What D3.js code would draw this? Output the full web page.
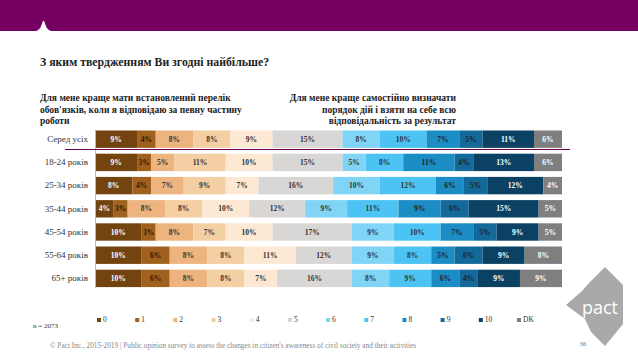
<!DOCTYPE html>
<html>
<head>
<meta charset="utf-8">
<script src="https://cdn.jsdelivr.net/npm/d3@7"></script>
<style>
  body { margin: 0; background: #fff; }
  svg { display: block; }
</style>
</head>
<body>
<div id="chart"></div>
<script>
// categories and values
var rows = ["Серед усіх", "18-24 років", "25-34 років", "35-44 років", "45-54 років", "55-64 років", "65+ років"]
var keys = ["0", "1", "2", "3", "4", "5", "6", "7", "8", "9", "10", "DK"]
var v_all   = [9, 4, 8, 8, 9, 15, 8, 10, 7, 5, 11, 6]
var v_18_24 = [9, 3, 5, 11, 10, 15, 5, 8, 11, 4, 13, 6]
var v_25_34 = [8, 4, 7, 9, 7, 16, 10, 12, 6, 5, 12, 4]
var v_35_44 = [4, 3, 8, 8, 10, 12, 9, 11, 9, 6, 15, 5]
var v_45_54 = [10, 3, 8, 7, 10, 17, 9, 10, 7, 5, 9, 5]
var v_55_64 = [10, 6, 8, 8, 11, 12, 9, 8, 5, 6, 9, 8]
var v_65    = [10, 6, 8, 8, 7, 16, 8, 9, 6, 4, 9, 9]
var values = [v_all, v_18_24, v_25_34, v_35_44, v_45_54, v_55_64, v_65]

var colors = ["#744410", "#a0611f", "#eeb47f", "#f4cfa4", "#fce8d3", "#d9d7d5",
              "#80d4f5", "#4cc3f2", "#1c8dc4", "#13699a", "#0b4263", "#7f7f7f"]
var labelColors = ["#fff", "#2a1a05", "#333", "#333", "#333", "#333",
                   "#333", "#333", "#222", "#222", "#fff", "#fff"]

var width = 638
var height = 359
var serif = "'Liberation Serif', 'DejaVu Serif', serif"

var table = rows.map(function (r, i) {
  var o = { row: r }
  keys.forEach(function (k, j) { o[k] = values[i][j] })
  return o
})

var svg = d3.select("#chart").append("svg")
    .attr("width", width)
    .attr("height", height)

// purple header band with the little notch
svg.append("rect")
    .attr("x", 0).attr("y", 0)
    .attr("width", width).attr("height", 31)
    .attr("fill", "#760061")
svg.append("path")
    .attr("d", "M32,32 Q40,31 41.5,25 Q42.5,21 43.5,20.5 Q44.5,21 45.5,25 Q47,31 55,32 Z")
    .attr("fill", "#fff")

// title
svg.append("text")
    .attr("x", 40).attr("y", 66)
    .style("font-family", serif)
    .style("font-size", "11.8px")
    .style("font-weight", "bold")
    .attr("fill", "#222")
    .text("З яким твердженням Ви згодні найбільше?")

// statement headings
var leftHead = ["Для мене краще мати встановлений перелік", "обов'язків, коли я відповідаю за певну частину", "роботи"]
var rightHead = ["Для мене краще самостійно визначати", "порядок дій і взяти на себе всю", "відповідальність за результат"]

svg.append("g").selectAll("text")
    .data(leftHead).enter().append("text")
    .attr("x", 40)
    .attr("y", function (d, i) { return 101 + i * 11.7 })
    .style("font-family", serif)
    .style("font-size", "9.5px")
    .style("font-weight", "bold")
    .attr("fill", "#222")
    .text(function (d) { return d })

svg.append("g").selectAll("text")
    .data(rightHead).enter().append("text")
    .attr("x", 456)
    .attr("y", function (d, i) { return 101 + i * 11.7 })
    .attr("text-anchor", "end")
    .style("font-family", serif)
    .style("font-size", "9.5px")
    .style("font-weight", "bold")
    .attr("fill", "#222")
    .text(function (d) { return d })

// scales
var x = d3.scaleLinear().domain([0, 100]).range([95, 562])
var y = d3.scaleBand().domain(rows).range([130.5, 287.1]).paddingInner(0.25).paddingOuter(0)

var stacked = d3.stack().keys(keys)(table)

var layer = svg.append("g").selectAll("g")
    .data(stacked).enter().append("g")
    .attr("fill", function (d, i) { return colors[i] })

layer.selectAll("rect")
    .data(function (d) { return d })
    .enter().append("rect")
    .attr("x", function (d) { return x(d[0]) })
    .attr("y", function (d) { return y(d.data.row) })
    .attr("width", function (d) { return x(d[1]) - x(d[0]) })
    .attr("height", y.bandwidth())

layer.selectAll("text")
    .data(function (d, i) { return d.map(function (s) { s.idx = i; return s }) })
    .enter().append("text")
    .attr("x", function (d) { return (x(d[0]) + x(d[1])) / 2 })
    .attr("y", function (d) { return y(d.data.row) + y.bandwidth() / 2 + 2.5 })
    .attr("text-anchor", "middle")
    .style("font-family", serif)
    .style("font-size", "7.5px")
    .style("font-weight", "bold")
    .attr("fill", function (d) { return labelColors[d.idx] })
    .text(function (d) { return (d[1] - d[0]) + "%" })

// row labels on a left axis
var yAxis = svg.append("g")
    .attr("transform", "translate(95,0)")
    .call(d3.axisLeft(y).tickSize(0).tickPadding(7))
yAxis.select(".domain").attr("stroke", "#bbb")
yAxis.selectAll("text")
    .style("font-family", serif)
    .style("font-size", "9px")
    .attr("fill", "#333")

// divider under the total row
svg.append("line")
    .attr("x1", 65).attr("x2", 570)
    .attr("y1", 149.5).attr("y2", 149.5)
    .attr("stroke", "#6b0050")
    .attr("stroke-width", 1)

// legend
var lx = d3.scalePoint().domain(keys).range([97, 517])
var leg = svg.append("g").selectAll("g")
    .data(keys).enter().append("g")
    .attr("transform", function (d) { return "translate(" + lx(d) + ",322)" })
leg.append("rect")
    .attr("x", 0).attr("y", -4)
    .attr("width", 4).attr("height", 4)
    .attr("fill", function (d, i) { return colors[i] })
leg.append("text")
    .attr("x", 6).attr("y", 0)
    .style("font-family", serif)
    .style("font-size", "7.5px")
    .attr("fill", "#333")
    .text(function (d) { return d })

// notes
svg.append("text")
    .attr("x", 33).attr("y", 328)
    .style("font-family", serif)
    .style("font-size", "7px")
    .attr("fill", "#333")
    .text("n = 2073")

svg.append("text")
    .attr("x", 50).attr("y", 348)
    .style("font-family", serif)
    .style("font-size", "7.3px")
    .attr("fill", "#888")
    .text("© Pact Inc., 2015-2019 | Public opinion survey to assess the changes in citizen's awareness of civil society and their activities")

// pact logo
svg.append("path")
    .attr("d", "M605,267 L623,285 L623,324 L605,346 L591,332 L585,319 L566,305 L582,291 L589,283 Z")
    .attr("fill", "#a9a9a9")
svg.append("text")
    .attr("x", 600).attr("y", 314)
    .attr("text-anchor", "middle")
    .style("font-family", "'Open Sans', 'DejaVu Sans', sans-serif")
    .style("font-size", "18px")
    .attr("fill", "#fff")
    .text("pact")
svg.append("text")
    .attr("x", 583).attr("y", 346)
    .attr("text-anchor", "middle")
    .style("font-family", serif)
    .style("font-size", "7px")
    .attr("fill", "#777")
    .text("36")
</script>
</body>
</html>
